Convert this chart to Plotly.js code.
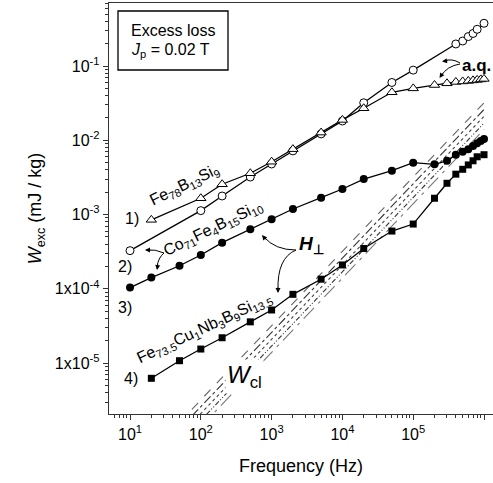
<!DOCTYPE html>
<html><head><meta charset="utf-8">
<script src="https://cdn.plot.ly/plotly-3.0.1.min.js"></script>
<style>html,body{margin:0;padding:0;background:#fff}#chart{width:493px;height:483px}</style>
</head><body><div id="chart"></div>
<script>
// ---- data ----
const freqFeB = [20,100,200,500,1000,2000,5000,1e4,2e4,5e4,1e5,2e5,3e5,4e5,5e5,6e5,7e5,8e5,9e5,1e6];
const wFeB = [8.5e-4,1.66e-3,2.56e-3,3.6e-3,5.15e-3,7.6e-3,0.0127,0.0188,0.027,0.0443,0.050,0.0555,0.0585,0.061,0.062,0.063,0.064,0.065,0.066,0.067];
const freqCoAq = [10,100,200,500,1000,2000,5000,1e4,2e4,5e4,1e5,4e5,5e5,6e5,7e5,8e5,1e6];
const wCoAq = [3.27e-4,1.13e-3,1.78e-3,3.2e-3,4.8e-3,7.2e-3,0.0122,0.0182,0.032,0.060,0.088,0.198,0.217,0.249,0.274,0.312,0.376];
const freqCoH = [10,20,50,100,200,500,1000,2000,5000,1e4,2e4,5e4,1e5,2e5,3e5,4e5,5e5,6e5,7e5,8e5,9e5,1e6];
const wCoH = [1.04e-4,1.42e-4,2.05e-4,2.86e-4,4.19e-4,6.34e-4,8.65e-4,1.19e-3,1.69e-3,2.21e-3,3.01e-3,3.9e-3,5.0e-3,4.75e-3,5.3e-3,6.4e-3,7.0e-3,7.6e-3,8.4e-3,9.1e-3,9.8e-3,0.0104];
const freqFeCu = [20,50,100,200,500,1000,2000,5000,1e4,2e4,5e4,1e5,2e5,3e5,4e5,5e5,6e5,7e5,8e5,1e6];
const wFeCu = [6.26e-6,1.08e-5,1.55e-5,2.2e-5,3.6e-5,5.2e-5,8.45e-5,1.35e-4,2.1e-4,3.5e-4,6.0e-4,7.46e-4,1.66e-3,2.64e-3,3.5e-3,4.07e-3,4.66e-3,5.3e-3,6.0e-3,6.4e-3];
// classical loss lines (end points)
const freqCl = [50, 1e6];
const wCl1 = [1.6e-6, 0.032];
const wCl2 = [1.3e-6, 0.026];
const wCl3 = [1.05e-6, 0.021];
const wCl4 = [8.5e-7, 0.017];
const wCl5 = [7.0e-7, 0.014];
// tick labels
const xTickVals = [10,100,1000,1e4,1e5,1e6];
const xTickText = ['10<sup>1</sup>','10<sup>2</sup>','10<sup>3</sup>','10<sup>4</sup>','10<sup>5</sup>','10<sup>6</sup>'];
const yTickVals = [1e-5,1e-4,1e-3,1e-2,1e-1];
const yTickText = ['1x10<sup>-5</sup>','1x10<sup>-4</sup>','10<sup>-3</sup>','10<sup>-2</sup>','10<sup>-1</sup>'];

// ---- layout helpers ----
const L = 109, R = 0, T = 3, B = 69, W = 493, H = 483;
const PW = W - L - R, PH = H - T - B;
const px = x => (x - L) / PW;
const py = y => (H - B - y) / PH;
const FONT = 'Liberation Sans, Arial, Helvetica, sans-serif';

function minorVals(lo, hi) {
  const v = [];
  for (let e = lo; e <= hi; e++) for (let m = 2; m <= 9; m++) v.push(m * Math.pow(10, e));
  return v;
}

const clStyle = [
  {d:'dash', c:'#666'}, {d:'dashdot', c:'#333'}, {d:'dot', c:'#444'},
  {d:'5px,2px,1px,2px,1px,2px', c:'#333'}, {d:'longdashdot', c:'#777'}
];
const clSets = [wCl1, wCl2, wCl3, wCl4, wCl5];
const traces = clSets.map((w, i) => ({
  x: freqCl, y: w, mode: 'lines', type: 'scatter', showlegend: false, hoverinfo: 'skip',
  line: {color: clStyle[i].c, width: 1.1, dash: clStyle[i].d}
}));

const lineStyle = {color: '#000', width: 1.3};
traces.push({x: freqFeCu, y: wFeCu, mode: 'lines+markers', type: 'scatter', showlegend: false,
  line: lineStyle, marker: {symbol: 'square', size: 7, color: '#000'}});
traces.push({x: freqCoH, y: wCoH, mode: 'lines+markers', type: 'scatter', showlegend: false,
  line: lineStyle, marker: {symbol: 'circle', size: 8, color: '#000'}});
traces.push({x: freqCoAq, y: wCoAq, mode: 'lines+markers', type: 'scatter', showlegend: false,
  line: lineStyle, marker: {symbol: 'circle', size: 8, color: '#fff', line: {color: '#000', width: 1}}});
traces.push({x: freqFeB, y: wFeB, mode: 'lines+markers', type: 'scatter', showlegend: false,
  line: lineStyle, marker: {symbol: 'triangle-up', size: 9, color: '#fff', line: {color: '#000', width: 1}}});

function txt(x, y, text, size, extra) {
  return Object.assign({xref: 'paper', yref: 'paper', x: px(x), y: py(y), text: text, showarrow: false,
    xanchor: 'center', yanchor: 'middle', font: {family: FONT, size: size, color: '#000'}}, extra || {});
}
function head(x, y, ax, ay) {
  return {xref: 'paper', yref: 'paper', x: px(x), y: py(y), text: '', showarrow: true,
    ax: ax, ay: ay, arrowhead: 2, arrowsize: 1, arrowwidth: 1, arrowcolor: '#000', standoff: 0};
}
function curve(x0, y0, cx, cy, x1, y1) {
  return {type: 'path', xref: 'paper', yref: 'paper', line: {color: '#000', width: 1},
    path: `M ${px(x0)} ${py(y0)} Q ${px(cx)} ${py(cy)} ${px(x1)} ${py(y1)}`};
}

const annotations = [
  txt(173, 30, 'Excess loss', 16),
  txt(170, 51, '<i>J</i><sub>p</sub> = 0.02 T', 16),
  txt(132, 218, '1)', 16), txt(125, 266, '2)', 16), txt(125, 307, '3)', 16), txt(131, 378, '4)', 16),
  txt(184, 185, 'Fe<sub>78</sub>B<sub>13</sub>Si<sub>9</sub>', 16, {textangle: -26}),
  txt(213, 228, 'Co<sub>71</sub>Fe<sub>4</sub>B<sub>15</sub>Si<sub>10</sub>', 16, {textangle: -26}),
  txt(204, 328, 'Fe<sub>73.5</sub>Cu<sub>1</sub>Nb<sub>3</sub>B<sub>9</sub>Si<sub>13.5</sub>', 16, {textangle: -25}),
  txt(476, 65, '<b>a.q.</b>', 17),
  txt(311, 245, '<b><i>H</i></b><sub><b>⊥</b></sub>', 19),
  txt(244, 376, '<i>W</i><sub>cl</sub>', 24, {bgcolor: '#fff'}),
  head(145, 250, 7, 0), head(157, 270, 1, -7),
  head(262, 235, 5, 6), head(278, 293, 0, -7),
  head(442, 61.5, 7, -1), head(439.5, 78, 4, -6)
];

const shapes = [
  {type: 'rect', xref: 'paper', yref: 'paper', x0: px(118), x1: px(228), y0: py(70), y1: py(11),
   line: {color: '#000', width: 1.3}, fillcolor: 'rgba(0,0,0,0)'},
  curve(164, 253, 155, 249, 147, 250),
  curve(164, 253, 158, 258, 157, 267),
  curve(296, 250, 275, 250, 264, 237),
  curve(296, 250, 277, 258, 278, 290),
  curve(460, 63, 452, 58, 444, 61),
  curve(460, 64, 447, 66, 441, 76)
];

const axisCommon = {
  type: 'log', showgrid: false, zeroline: false, ticks: 'outside', ticklen: 5, tickwidth: 1,
  tickcolor: '#333', linecolor: '#333', linewidth: 1.3, tickmode: 'array',
  tickfont: {family: FONT, size: 16, color: '#000'}
};

const layout = {
  width: W, height: H, margin: {l: L, r: R, t: T, b: B}, paper_bgcolor: '#fff', plot_bgcolor: '#fff',
  showlegend: false, font: {family: FONT, color: '#000'},
  xaxis: Object.assign({}, axisCommon, {
    range: [0.703, 6.127], tickvals: xTickVals, ticktext: xTickText, mirror: true,
    minor: {tickmode: 'array', tickvals: minorVals(0, 6), ticks: 'outside', ticklen: 3, tickwidth: 1, tickcolor: '#333', showgrid: false},
    title: {text: 'Frequency (Hz)', font: {family: FONT, size: 18, color: '#000'}, standoff: 18}
  }),
  yaxis: Object.assign({}, axisCommon, {
    range: [-5.684, -0.152], tickvals: yTickVals, ticktext: yTickText, mirror: false,
    minor: {tickmode: 'array', tickvals: minorVals(-6, -1), ticks: 'outside', ticklen: 3, tickwidth: 1, tickcolor: '#333', showgrid: false},
    title: {text: '<i>W</i><sub>exc</sub> (mJ / kg)', font: {family: FONT, size: 18, color: '#000'}, standoff: 8}
  }),
  annotations: annotations, shapes: shapes
};

Plotly.newPlot('chart', traces, layout, {staticPlot: true, displayModeBar: false});
</script></body></html>
